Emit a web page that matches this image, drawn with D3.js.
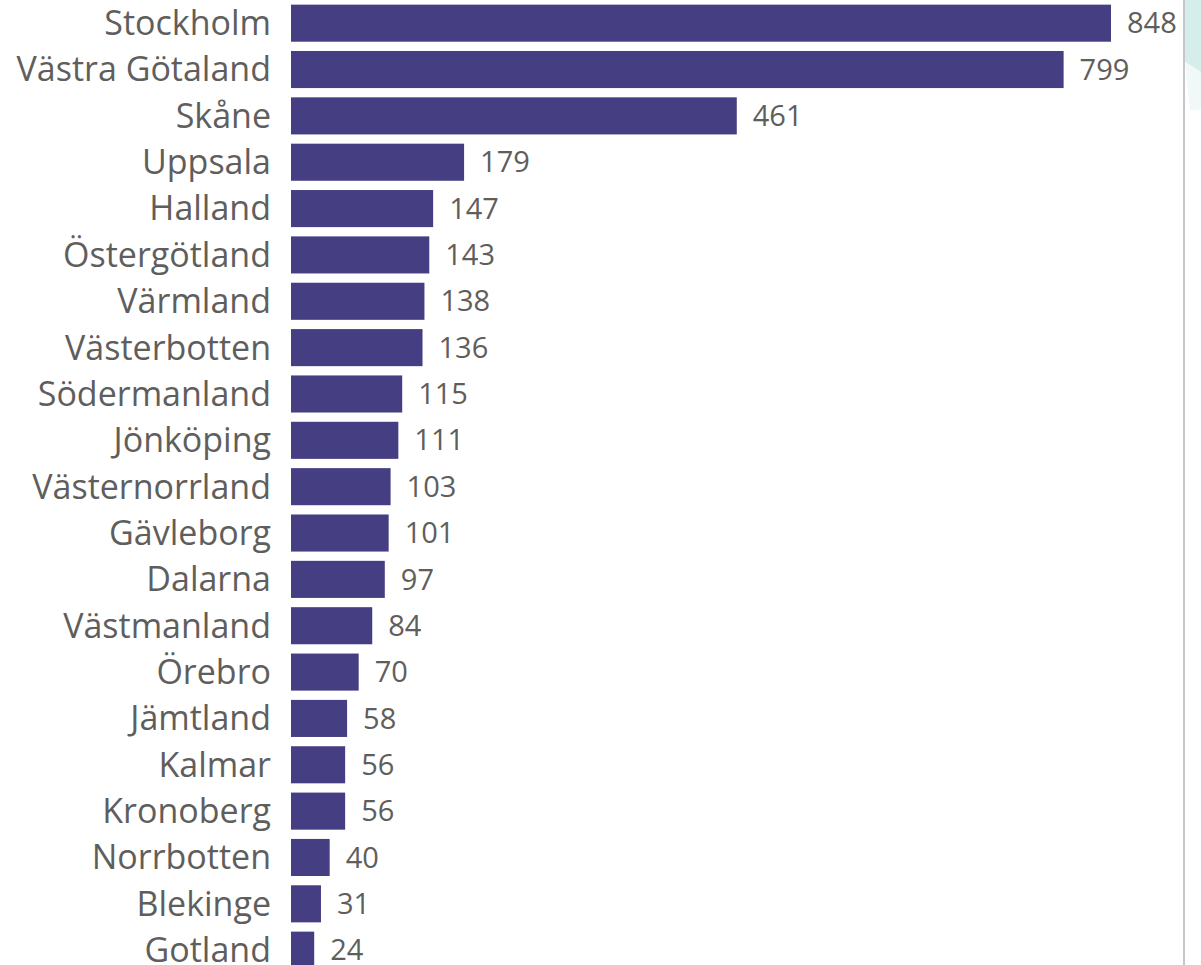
<!DOCTYPE html>
<html>
<head>
<meta charset="utf-8">
<script src="https://cdn.jsdelivr.net/npm/d3@7"></script>
<style>
  body { margin: 0; background: #fff; overflow: hidden; }
  svg { display: block; }
  text { font-family: "Open Sans", "Noto Sans", sans-serif; }
</style>
</head>
<body>
<svg id="chart" width="1201" height="965"></svg>
<script>
// Regions and values
let regions = ["Stockholm", "Västra Götaland", "Skåne", "Uppsala", "Halland", "Östergötland",
  "Värmland", "Västerbotten", "Södermanland", "Jönköping", "Västernorrland", "Gävleborg",
  "Dalarna", "Västmanland", "Örebro", "Jämtland", "Kalmar", "Kronoberg", "Norrbotten",
  "Blekinge", "Gotland"];
let counts = [848, 799, 461, 179, 147, 143, 138, 136, 115, 111, 103, 101, 97, 84, 70, 58, 56, 56, 40, 31, 24];

let svg = d3.select("#chart");

// Side panel on the right (teal background with divider line)
svg.append("polygon")
  .attr("points", "1185,0 1201,0 1201,72 1185,62")
  .attr("fill", "#d5eeec");
svg.append("polygon")
  .attr("points", "1185,62 1201,72 1201,110 1190,110")
  .attr("fill", "#f1f9f8");
svg.append("line")
  .attr("x1", 1184).attr("x2", 1184)
  .attr("y1", 0).attr("y2", 965)
  .attr("stroke", "#c6c6c6")
  .attr("stroke-width", 2);

// Scales
let x = d3.scaleLinear()
  .domain([0, 848])
  .range([291, 1111]);

let y = d3.scaleBand()
  .domain(regions)
  .range([0, regions.length * 46.35])
  .paddingInner(0.2)
  .paddingOuter(0.1);

let data = regions.map((r, i) => ({ region: r, value: counts[i] }));

// Bars
svg.append("g")
  .selectAll("rect")
  .data(data)
  .join("rect")
  .attr("x", x(0))
  .attr("y", d => y(d.region))
  .attr("width", d => x(d.value) - x(0))
  .attr("height", y.bandwidth())
  .attr("fill", "#453e83");

// Category labels
svg.append("g")
  .selectAll("text")
  .data(data)
  .join("text")
  .attr("x", 271)
  .attr("y", d => y(d.region) + y.bandwidth() / 2)
  .attr("dy", "0.35em")
  .attr("text-anchor", "end")
  .attr("font-size", 34)
  .attr("fill", "#605e5c")
  .text(d => d.region);

// Value labels
svg.append("g")
  .selectAll("text")
  .data(data)
  .join("text")
  .attr("x", d => x(d.value) + 16)
  .attr("y", d => y(d.region) + y.bandwidth() / 2)
  .attr("dy", "0.35em")
  .attr("font-size", 29)
  .attr("fill", "#605e5c")
  .text(d => d.value);
</script>
</body>
</html>
